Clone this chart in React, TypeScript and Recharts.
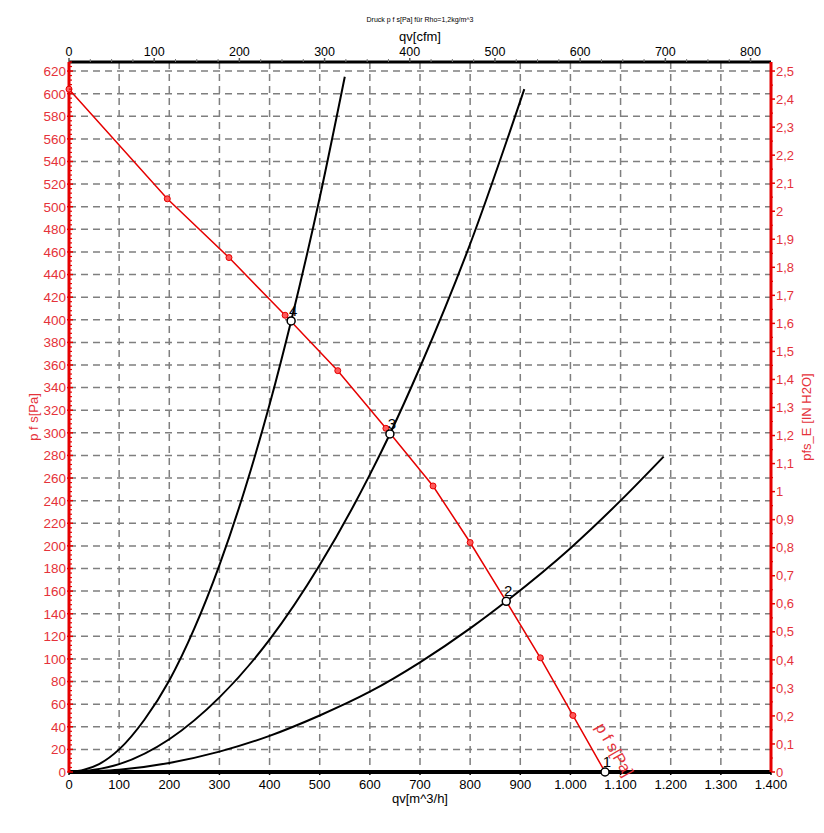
import { CartesianGrid, ComposedChart, LabelList, Line, XAxis, YAxis } from "recharts";

const RED = "#e60000";
const RED_TEXT = "#e5323a";
const GRID = "#7f7f7f";
const FONT = '"Liberation Sans", Arial, Helvetica, sans-serif';

// Kennlinie p f s über qv (Messpunkte)
const fanQ = [0, 196, 319, 431, 536, 632, 726, 800, 872, 940, 1005, 1069];
const fanP = [604, 507, 455, 404, 355, 304, 253, 203, 151, 101, 50, 0];

// Anlagenkennlinien
const sys1Q = [0, 30, 60, 100, 150, 200, 250, 300, 350, 400, 443, 500, 550];
const sys1P = [0, 2, 7, 20, 46, 81, 127, 183, 249, 325, 399, 508, 615];
const sys2Q = [0, 50, 100, 200, 300, 400, 500, 600, 640, 700, 800, 908];
const sys2P = [0, 2, 7, 29, 66, 117, 183, 263, 299, 358, 467, 604];
const sys3Q = [0, 100, 200, 300, 400, 500, 600, 700, 800, 872, 1000, 1100, 1186];
const sys3P = [0, 2, 8, 18, 32, 50, 71, 97, 127, 151, 198, 240, 279];

// Betriebspunkte
const opNames = ["4", "3", "2", "1"];
const opQ = [443, 640, 872, 1069];
const opP = [399, 299, 151, 0];

// Achsen
const qTicks = [0, 100, 200, 300, 400, 500, 600, 700, 800, 900, 1000, 1100, 1200, 1300, 1400];
const cfmTicks = [0, 100, 200, 300, 400, 500, 600, 700, 800];
const paTicks = [
  0, 20, 40, 60, 80, 100, 120, 140, 160, 180, 200, 220, 240, 260, 280, 300,
  320, 340, 360, 380, 400, 420, 440, 460, 480, 500, 520, 540, 560, 580, 600, 620,
];
const inTicks = [
  0, 0.1, 0.2, 0.3, 0.4, 0.5, 0.6, 0.7, 0.8, 0.9, 1, 1.1, 1.2,
  1.3, 1.4, 1.5, 1.6, 1.7, 1.8, 1.9, 2, 2.1, 2.2, 2.3, 2.4, 2.5,
];

const PA_MAX = 628;
const IN_MAX = (2.5 * PA_MAX) / 620;
const CFM_MAX = 1400 / 1.699;

const pts = (q: number[], p: number[]) => q.map((v, i) => ({ q: v, p: p[i] }));
const fanCurve = pts(fanQ, fanP);
const sys1 = pts(sys1Q, sys1P);
const sys2 = pts(sys2Q, sys2P);
const sys3 = pts(sys3Q, sys3P);
const opPoints = opQ.map((q, i) => ({ q, p: opP[i], name: opNames[i] }));
// unsichtbar, nur damit die cfm-Achse eine Skala bekommt
const cfmSpan = [{ cfm: 0, p: 0 }, { cfm: CFM_MAX, p: 0 }];

// minor ticks
const steps = (max: number, step: number) =>
  Array.from({ length: Math.floor(max / step + 1e-9) + 1 }, (_, i) => +(i * step).toFixed(3));
const isMajor = (v: number, list: number[]) => list.some((t) => Math.abs(t - v) < 1e-6);

const fmtQ = (v: number) =>
  v >= 1000 ? `${Math.floor(v / 1000)}.${String(v % 1000).padStart(3, "0")}` : String(v);
const fmtIn = (v: number) => String(Math.round(v * 10) / 10).replace(".", ",");

function LeftTick({ x, y, payload }: any) {
  const v = payload.value;
  if (!isMajor(v, paTicks)) {
    return <line x1={x} x2={x + 3} y1={y} y2={y} stroke={RED} strokeWidth={1.2} />;
  }
  return (
    <g>
      <line x1={x - 2} x2={x + 4} y1={y} y2={y} stroke={RED} strokeWidth={1.5} />
      <text x={x - 3} y={y} dy="0.36em" textAnchor="end" fill={RED_TEXT} fontSize={13.5} fontFamily={FONT}>
        {v}
      </text>
    </g>
  );
}

function RightTick({ x, y, payload }: any) {
  const v = payload.value;
  if (!isMajor(v, inTicks)) {
    return <line x1={x} x2={x + 2} y1={y} y2={y} stroke={RED} strokeWidth={1.2} />;
  }
  return (
    <g>
      <line x1={x} x2={x + 4} y1={y} y2={y} stroke={RED} strokeWidth={1.5} />
      <text x={x + 5} y={y} dy="0.36em" textAnchor="start" fill={RED_TEXT} fontSize={13} fontFamily={FONT}>
        {fmtIn(v)}
      </text>
    </g>
  );
}

function TopTick({ x, y, payload }: any) {
  const v = payload.value;
  if (!isMajor(v, cfmTicks)) {
    return <line x1={x} x2={x} y1={y - 3} y2={y} stroke="#777" strokeWidth={1} />;
  }
  return (
    <g>
      <line x1={x} x2={x} y1={y - 4} y2={y} stroke="#555" strokeWidth={1.5} />
      <text x={x} y={y - 6} textAnchor="middle" fill="#000" fontSize={12.5} fontFamily={FONT}>
        {v}
      </text>
    </g>
  );
}

function BottomTick({ x, y, payload }: any) {
  return (
    <g>
      <line x1={x} x2={x} y1={y} y2={y + 3} stroke="#000" strokeWidth={1.5} />
      <text x={x} y={y + 17} textAnchor="middle" fill="#000" fontSize={13} fontFamily={FONT}>
        {fmtQ(payload.value)}
      </text>
    </g>
  );
}

function LeftTitle(props: any) {
  const vb = props.viewBox ?? { x: 9, y: 62, width: 60, height: 710 };
  const cx = vb.x + 24;
  const cy = vb.y + vb.height / 2;
  return (
    <text x={cx} y={cy} transform={`rotate(-90 ${cx} ${cy})`} textAnchor="middle" dominantBaseline="central"
      fill={RED_TEXT} fontSize={13} fontFamily={FONT}>
      p f s[Pa]
    </text>
  );
}

function RightTitle(props: any) {
  const vb = props.viewBox ?? { x: 771, y: 62, width: 40, height: 710 };
  const cx = vb.x + 35;
  const cy = vb.y + vb.height / 2;
  return (
    <text x={cx} y={cy} transform={`rotate(-90 ${cx} ${cy})`} textAnchor="middle" dominantBaseline="central"
      fill={RED_TEXT} fontSize={13} fontFamily={FONT}>
      pfs_E [IN H2O]
    </text>
  );
}

function TopTitle(props: any) {
  const vb = props.viewBox ?? { x: 69, y: 32, width: 702, height: 30 };
  const cx = vb.x + vb.width / 2;
  return (
    <g fontFamily={FONT}>
      <text x={cx} y={vb.y - 10} textAnchor="middle" fill="#000" fontSize={7}>
        Druck p f s[Pa] für Rho=1,2kg/m^3
      </text>
      <text x={cx} y={vb.y + 9} textAnchor="middle" fill="#000" fontSize={13}>
        qv[cfm]
      </text>
    </g>
  );
}

function BottomTitle(props: any) {
  const vb = props.viewBox ?? { x: 69, y: 772, width: 702, height: 36 };
  return (
    <text x={vb.x + vb.width / 2} y={vb.y + 31} textAnchor="middle" fill="#000" fontSize={13} fontFamily={FONT}>
      qv[m^3/h]
    </text>
  );
}

// Kurvenbeschriftung am Ende der Kennlinie, rechts neben der Linie
function FanLabel({ x, y, index }: any) {
  if (index !== fanCurve.length - 1) return null;
  const x0 = x - 10;
  const y0 = y - 45;
  return (
    <text x={x0} y={y0} transform={`rotate(60 ${x0} ${y0})`} fill={RED_TEXT} fontSize={16} fontFamily={FONT}>
      p f s[Pa]
    </text>
  );
}

function OpLabel({ x, y, value }: any) {
  return (
    <text x={x + 2} y={y - 5} textAnchor="middle" fill="#000" fontSize={15} fontFamily={FONT}>
      {value}
    </text>
  );
}

export default function App() {
  return (
    <div style={{ position: "absolute", left: 0, top: 0, background: "#fff" }}>
      <ComposedChart width={824} height={833} margin={{ top: 32, right: 13, bottom: 25, left: 9 }}>
        <CartesianGrid
          xAxisId="m3h"
          yAxisId="pa"
          stroke={GRID}
          strokeWidth={1.5}
          strokeDasharray="7 5"
          horizontalValues={paTicks}
          verticalValues={qTicks}
        />
        <XAxis
          xAxisId="m3h"
          dataKey="q"
          type="number"
          orientation="bottom"
          domain={[0, 1400]}
          ticks={qTicks}
          interval={0}
          height={36}
          tickSize={0}
          tickMargin={0}
          tickLine={false}
          tick={<BottomTick />}
          axisLine={{ stroke: "#000", strokeWidth: 4 }}
          label={{ content: BottomTitle }}
        />
        <XAxis
          xAxisId="cfm"
          dataKey="cfm"
          type="number"
          orientation="top"
          domain={[0, CFM_MAX]}
          allowDataOverflow
          ticks={steps(CFM_MAX, 25)}
          interval={0}
          height={30}
          tickSize={0}
          tickMargin={0}
          tickLine={false}
          tick={<TopTick />}
          axisLine={{ stroke: "#000", strokeWidth: 3 }}
          label={{ content: TopTitle }}
        />
        <YAxis
          yAxisId="pa"
          type="number"
          orientation="left"
          domain={[0, PA_MAX]}
          ticks={steps(PA_MAX, 4)}
          interval={0}
          width={60}
          tickSize={0}
          tickMargin={0}
          tickLine={false}
          tick={<LeftTick />}
          axisLine={{ stroke: RED, strokeWidth: 3 }}
          label={{ content: LeftTitle }}
        />
        <YAxis
          yAxisId="inh2o"
          type="number"
          orientation="right"
          domain={[0, IN_MAX]}
          allowDataOverflow
          ticks={steps(2.5, 0.05)}
          interval={0}
          width={40}
          tickSize={0}
          tickMargin={0}
          tickLine={false}
          tick={<RightTick />}
          axisLine={{ stroke: RED, strokeWidth: 3 }}
          label={{ content: RightTitle }}
        />

        <Line data={cfmSpan} xAxisId="cfm" yAxisId="pa" dataKey="p" stroke="none" dot={false}
          activeDot={false} legendType="none" isAnimationActive={false} />

        <Line data={sys1} xAxisId="m3h" yAxisId="pa" dataKey="p" type="monotone" stroke="#000" strokeWidth={2}
          dot={false} isAnimationActive={false} />
        <Line data={sys2} xAxisId="m3h" yAxisId="pa" dataKey="p" type="monotone" stroke="#000" strokeWidth={2}
          dot={false} isAnimationActive={false} />
        <Line data={sys3} xAxisId="m3h" yAxisId="pa" dataKey="p" type="monotone" stroke="#000" strokeWidth={2}
          dot={false} isAnimationActive={false} />

        <Line data={fanCurve} xAxisId="m3h" yAxisId="pa" dataKey="p" type="linear" stroke={RED} strokeWidth={1.5}
          dot={{ r: 3, fill: "#ff5a5a", stroke: RED, strokeWidth: 1 }} isAnimationActive={false}>
          <LabelList dataKey="p" content={FanLabel} />
        </Line>

        <Line data={opPoints} xAxisId="m3h" yAxisId="pa" dataKey="p" stroke="none"
          dot={{ r: 4, fill: "#fff", stroke: "#000", strokeWidth: 1.5 }} isAnimationActive={false}>
          <LabelList dataKey="name" content={OpLabel} />
        </Line>
      </ComposedChart>
    </div>
  );
}
